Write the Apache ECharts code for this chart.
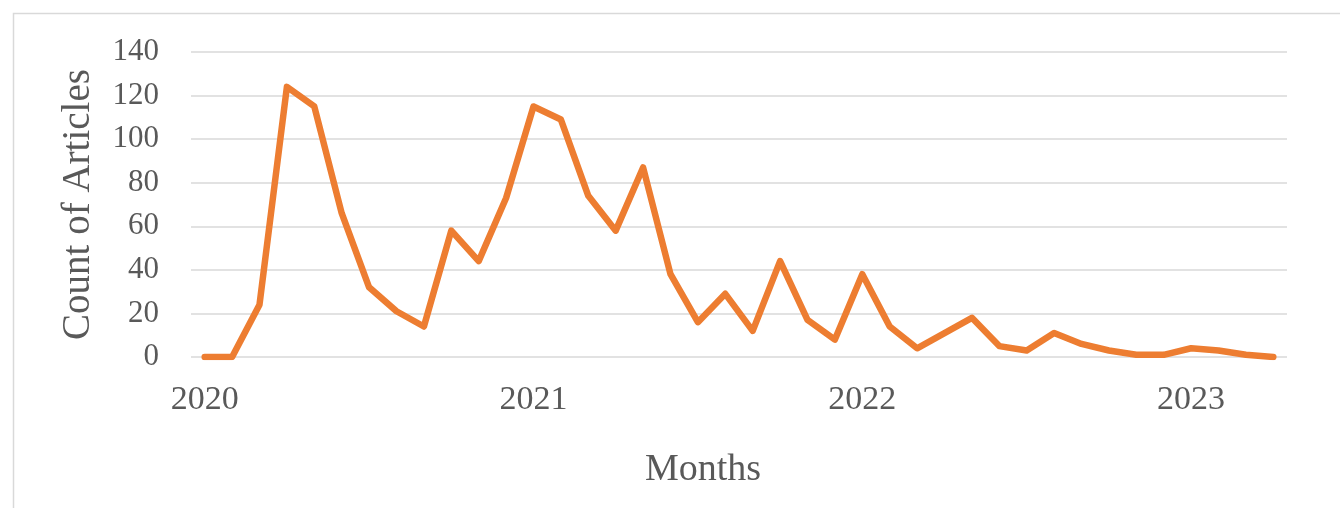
<!DOCTYPE html>
<html>
<head>
<meta charset="utf-8">
<script src="https://cdn.jsdelivr.net/npm/echarts@6/dist/echarts.min.js"></script>
<style>
html,body{margin:0;padding:0;background:#fff;}
#chart{width:1340px;height:508px;}
</style>
</head>
<body>
<div id="chart"></div>
<script>
const months = [
  "2020-01","2020-02","2020-03","2020-04","2020-05","2020-06","2020-07","2020-08","2020-09","2020-10","2020-11","2020-12",
  "2021-01","2021-02","2021-03","2021-04","2021-05","2021-06","2021-07","2021-08","2021-09","2021-10","2021-11","2021-12",
  "2022-01","2022-02","2022-03","2022-04","2022-05","2022-06","2022-07","2022-08","2022-09","2022-10","2022-11","2022-12",
  "2023-01","2023-02","2023-03","2023-04"
];
const articleCounts = [
  0, 0, 24, 124, 115, 66, 32, 21, 14, 58, 44, 73,
  115, 109, 74, 58, 87, 38, 16, 29, 12, 44, 17, 8,
  38, 14, 4, 11, 18, 5, 3, 11, 6, 3, 1, 1,
  4, 3, 1, 0
];
const yTicks = [0, 20, 40, 60, 80, 100, 120, 140];
const xAxisTitle = "Months";
const yAxisTitle = "Count of Articles";

const font = "'Liberation Serif', 'Times New Roman', serif";
const textColor = "#595959";

const chart = echarts.init(document.getElementById('chart'), null, {renderer: 'canvas'});
chart.setOption({
  animation: false,
  backgroundColor: '#ffffff',
  graphic: [{
    type: 'rect',
    left: 11, top: 11,
    shape: {width: 1400, height: 600},
    style: {fill: 'none', stroke: '#d9d9d9', lineWidth: 1.5},
    silent: true
  }],
  grid: {left: 191, right: 53, top: 52, bottom: 151, containLabel: false},
  xAxis: {
    type: 'category',
    data: months,
    boundaryGap: true,
    name: xAxisTitle,
    nameLocation: 'middle',
    nameGap: 94,
    nameTextStyle: {fontFamily: font, fontSize: 38, color: textColor, padding: [0, 72, 0, 0]},
    axisLine: {show: false},
    axisTick: {show: false},
    axisLabel: {
      interval: function (index, value) { return value.slice(5) === '01'; },
      formatter: function (value) { return value.slice(0, 4); },
      fontFamily: font, fontSize: 34, color: textColor, margin: 26
    },
    splitLine: {show: false}
  },
  yAxis: {
    type: 'value',
    min: yTicks[0],
    max: yTicks[yTicks.length - 1],
    interval: yTicks[1] - yTicks[0],
    name: yAxisTitle,
    nameLocation: 'middle',
    nameGap: 93,
    nameRotate: 90,
    nameTextStyle: {fontFamily: font, fontSize: 39, color: textColor},
    axisLine: {show: false},
    axisTick: {show: false},
    axisLabel: {fontFamily: font, fontSize: 31, color: textColor, margin: 32},
    splitLine: {lineStyle: {color: '#d9d9d9', width: 1.5}}
  },
  series: [{
    type: 'line',
    data: articleCounts,
    symbol: 'none',
    lineStyle: {color: '#ED7D31', width: 6.5, cap: 'round', join: 'round'},
    itemStyle: {color: '#ED7D31'}
  }]
});
</script>
</body>
</html>
